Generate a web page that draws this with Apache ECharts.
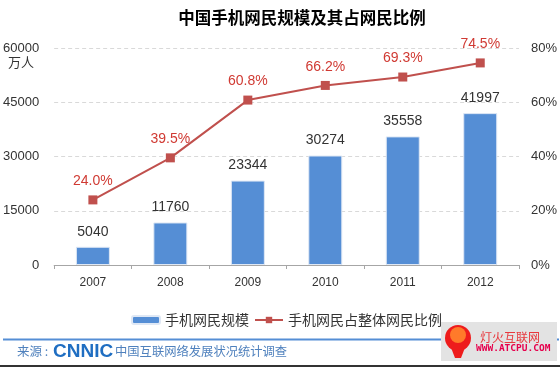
<!DOCTYPE html>
<html><head><meta charset="utf-8">
<script src="https://cdn.jsdelivr.net/npm/echarts@6/dist/echarts.min.js"></script>
<style>html,body{margin:0;padding:0;background:#fff}#c{width:560px;height:367px}</style>
</head><body><div id="c"></div>
<script>
const categories = ['2007','2008','2009','2010','2011','2012'];
const users = [5040, 11760, 23344, 30274, 35558, 41997];
const ratio = [24.0, 39.5, 60.8, 66.2, 69.3, 74.5];
const leftTicks = [0, 15000, 30000, 45000, 60000];
const FONT = '"Microsoft YaHei","Noto Sans CJK SC",sans-serif';
const NUMF = '"Liberation Sans",Arial,sans-serif';
const chart = echarts.init(document.getElementById('c'));
chart.setOption({
  animation: false,
  backgroundColor: '#fff',
  textStyle: {fontFamily: FONT},
  title: {text: '中国手机网民规模及其占网民比例', left: 297, top: 4, textAlign: 'center',
    textStyle: {fontSize: 16.5, fontWeight: 'bold', color: '#000', fontFamily: FONT}},
  grid: {left: 53, right: 40, top: 48, bottom: 102},
  legend: {
    top: 313, left: 131, padding: 0, itemGap: 5, itemWidth: 28, itemHeight: 8,
    textStyle: {fontSize: 14, color: '#333', fontFamily: FONT},
    data: ['手机网民规模', '手机网民占整体网民比例']
  },
  xAxis: {type: 'category', data: categories,
    axisLine: {lineStyle: {color: '#a6a6a6'}},
    axisTick: {show: true, length: 4, lineStyle: {color: '#a6a6a6'}},
    axisLabel: {color: '#333', fontSize: 12, margin: 12, fontFamily: NUMF}},
  yAxis: [
    {type: 'value', min: 0, max: 60000, interval: 15000,
     axisLine: {show: false}, axisTick: {show: false},
     splitLine: {lineStyle: {color: '#d9d9d9', type: [4,3]}},
     axisLabel: {color: '#333', fontSize: 13, margin: 15, fontFamily: NUMF,
       formatter: v => leftTicks.includes(v) ? String(v) : ''}},
    {type: 'value', min: 0, max: 80, interval: 20,
     axisLine: {show: false}, axisTick: {show: false}, splitLine: {show: false},
     axisLabel: {color: '#333', fontSize: 13, margin: 12, fontFamily: NUMF, formatter: '{value}%'}}
  ],
  series: [
    {name: '手机网民规模', type: 'bar', data: users, barWidth: 34, yAxisIndex: 0,
     itemStyle: {color: '#558ed5', borderColor: '#dfe8f5', borderWidth: 1},
     label: {show: true, position: 'top', distance: 8, color: '#333', fontSize: 14, fontFamily: NUMF}},
    {name: '手机网民占整体网民比例', type: 'line', data: ratio, yAxisIndex: 1,
     symbol: 'rect', symbolSize: 9,
     lineStyle: {color: '#c0504d', width: 2}, itemStyle: {color: '#c0504d'},
     label: {show: true, position: 'top', distance: 7, color: '#d03a33', fontSize: 14,
       fontFamily: NUMF, formatter: p => p.value.toFixed(1) + '%'}}
  ],
  graphic: [
    {type: 'text', left: 8, top: 56, style: {text: '万人', fontSize: 13, fill: '#333', fontFamily: FONT}},
    {type: 'line', shape: {x1: 3, y1: 339.5, x2: 559, y2: 339.5}, style: {stroke: '#558ed5', lineWidth: 2}},
    {type: 'line', shape: {x1: 0, y1: 366, x2: 560, y2: 366}, style: {stroke: '#333', lineWidth: 2}},
    {type: 'text', left: 17, top: 345, style: {text: '来源 :', fontSize: 12.5, fill: '#4f81bd', fontFamily: FONT}},
    {type: 'text', left: 53, top: 342, style: {text: 'CNNIC', fontSize: 19, fontWeight: 'bold', fill: '#1f6ec2', fontFamily: NUMF}},
    {type: 'text', left: 115, top: 345, style: {text: '中国互联网络发展状况统计调查', fontSize: 12.3, fill: '#4f81bd', fontFamily: FONT}},
    {type: 'rect', shape: {x: 441, y: 322, width: 116, height: 39}, style: {fill: '#e3e3e3'}},
    {type: 'polygon', shape: {points: [[450, 345], [466, 345], [461, 358], [455, 358]]}, style: {fill: '#ee1c1c'}},
    {type: 'circle', shape: {cx: 458, cy: 338, r: 13}, style: {fill: '#ee1c1c'}},
    {type: 'circle', shape: {cx: 458, cy: 335, r: 8}, style: {fill: '#ff7a2a'}},
    {type: 'text', left: 480, top: 331, style: {text: '灯火互联网', fontSize: 12, fill: '#e8383d', fontFamily: FONT}},
    {type: 'text', left: 476, top: 344, style: {text: 'WWW.ATCPU.COM', fontSize: 9.5, fontWeight: 'bold', fill: '#e6004c', fontFamily: '"DejaVu Sans Mono",monospace'}}
  ]
});
</script></body></html>
